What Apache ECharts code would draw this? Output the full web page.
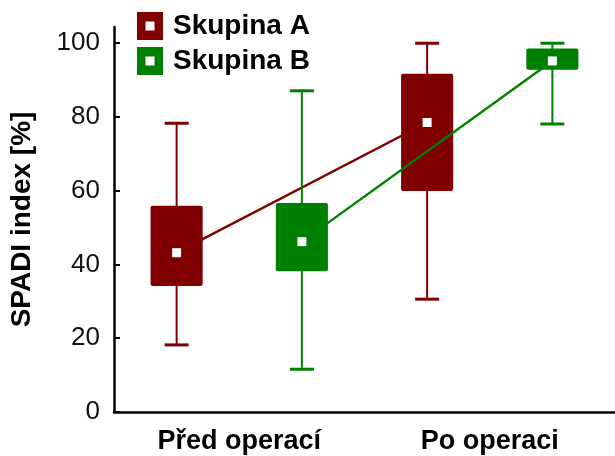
<!DOCTYPE html>
<html>
<head>
<meta charset="utf-8">
<script src="https://cdn.jsdelivr.net/npm/echarts@6/dist/echarts.min.js"></script>
<style>
html,body{margin:0;padding:0;background:#fff;}
#chart{width:615px;height:456px;}
</style>
</head>
<body>
<div id="chart"></div>
<script>
// ---- data ----
var categories = ['Před operací', 'Po operaci'];
var groupNames = ['Skupina A', 'Skupina B'];
var colors = ['#800000', '#008000'];
// per category: low whisker, Q1, median, Q3, high whisker
var aLow    = [18.2, 30.6];
var aQ1     = [34.2, 59.9];
var aMedian = [43.2, 78.5];
var aQ3     = [55.9, 91.7];
var aHigh   = [78.3, 100];
var bLow    = [11.6, 78.1];
var bQ1     = [38.2, 92.8];
var bMedian = [46.2, 95.2];
var bQ3     = [56.7, 98.6];
var bHigh   = [87.1, 100];
var yTicks  = [0, 20, 40, 60, 80, 100];

var FONT = '"Liberation Sans", Arial, Helvetica, sans-serif';

function boxData(low, q1, med, q3, high) {
  return categories.map(function (c, i) { return [i, low[i], q1[i], med[i], q3[i], high[i]]; });
}
function lineData(med) {
  return [[0, med[0], 1, med[1]]];
}

function makeBoxRender(offsetFrac, color) {
  return function (params, api) {
    var band = api.size([1, 0])[0];
    var off = offsetFrac * band;
    var bw = 0.208 * band;
    var cw = 0.096 * band;
    var x = api.value(0);
    var pLow = api.coord([x, api.value(1)]);
    var pQ1 = api.coord([x, api.value(2)]);
    var pMed = api.coord([x, api.value(3)]);
    var pQ3 = api.coord([x, api.value(4)]);
    var pHigh = api.coord([x, api.value(5)]);
    var cx = pLow[0] + off;
    var ms = 9;
    return {
      type: 'group',
      children: [
        { type: 'line', shape: { x1: cx, y1: pLow[1], x2: cx, y2: pHigh[1] }, style: { stroke: color, lineWidth: 2 } },
        { type: 'line', shape: { x1: cx - cw / 2, y1: pLow[1], x2: cx + cw / 2, y2: pLow[1] }, style: { stroke: color, lineWidth: 3 } },
        { type: 'line', shape: { x1: cx - cw / 2, y1: pHigh[1], x2: cx + cw / 2, y2: pHigh[1] }, style: { stroke: color, lineWidth: 3 } },
        { type: 'rect', shape: { x: cx - bw / 2, y: pQ3[1], width: bw, height: pQ1[1] - pQ3[1], r: 2 }, style: { fill: color } },
        { type: 'rect', shape: { x: cx - ms / 2, y: pMed[1] - ms / 2, width: ms, height: ms }, style: { fill: '#fff' } }
      ]
    };
  };
}
function makeLineRender(offsetFrac, color) {
  return function (params, api) {
    var band = api.size([1, 0])[0];
    var off = offsetFrac * band;
    var p0 = api.coord([api.value(0), api.value(1)]);
    var p1 = api.coord([api.value(2), api.value(3)]);
    return {
      type: 'line',
      shape: { x1: p0[0] + off, y1: p0[1], x2: p1[0] + off, y2: p1[1] },
      style: { stroke: color, lineWidth: 2.4 }
    };
  };
}

var chart = echarts.init(document.getElementById('chart'), null, { renderer: 'canvas' });
var option = {
  animation: false,
  backgroundColor: '#fff',
  grid: { left: 114, right: 0, top: 27, bottom: 44, containLabel: false, outerBoundsMode: 'none' },
  legend: {
    orient: 'vertical',
    left: 137,
    top: 12,
    padding: 0,
    itemWidth: 26,
    itemHeight: 28,
    itemGap: 7,
    data: groupNames,
    icon: 'path://M0,0H26V28H0Z M8.5,9.5V18.5H17.5V9.5Z',
    textStyle: { fontFamily: FONT, fontSize: 28, fontWeight: 'bold', color: '#000', padding: [0, 0, 0, 5] }
  },
  xAxis: {
    type: 'category',
    data: categories,
    boundaryGap: true,
    axisLine: { lineStyle: { color: '#000', width: 2.5 } },
    axisTick: { alignWithLabel: true, inside: true, length: 7, lineStyle: { color: '#000', width: 2 } },
    axisLabel: { interval: 0, margin: 16, fontFamily: FONT, fontSize: 27, fontWeight: 'bold', color: '#000' },
    splitLine: { show: false }
  },
  yAxis: {
    type: 'value',
    min: 0,
    max: 104.4,
    interval: 20,
    name: 'SPADI index [%]',
    nameLocation: 'middle',
    nameGap: 78,
    nameTextStyle: { fontFamily: FONT, fontSize: 28, fontWeight: 'bold', color: '#000' },
    axisLine: { show: true, lineStyle: { color: '#000', width: 2.5 } },
    axisTick: { show: true, inside: true, length: 6, lineStyle: { color: '#000', width: 2 }, customValues: yTicks },
    axisLabel: {
      margin: 14, fontFamily: FONT, fontSize: 26, color: '#111', customValues: yTicks,
      formatter: function (v) { return yTicks.indexOf(v) >= 0 ? String(v) : ''; }
    },
    splitLine: { show: false }
  },
  series: [
    {
      name: groupNames[0], type: 'custom', renderItem: makeLineRender(-0.25, colors[0]),
      itemStyle: { color: colors[0] }, encode: { x: [0, 2], y: [1, 3] }, data: lineData(aMedian), silent: true
    },
    {
      name: groupNames[0], type: 'custom', renderItem: makeBoxRender(-0.25, colors[0]),
      itemStyle: { color: colors[0] }, encode: { x: 0, y: [1, 2, 3, 4, 5] }, data: boxData(aLow, aQ1, aMedian, aQ3, aHigh)
    },
    {
      name: groupNames[1], type: 'custom', renderItem: makeLineRender(0.25, colors[1]),
      itemStyle: { color: colors[1] }, encode: { x: [0, 2], y: [1, 3] }, data: lineData(bMedian), silent: true
    },
    {
      name: groupNames[1], type: 'custom', renderItem: makeBoxRender(0.25, colors[1]),
      itemStyle: { color: colors[1] }, encode: { x: 0, y: [1, 2, 3, 4, 5] }, data: boxData(bLow, bQ1, bMedian, bQ3, bHigh)
    }
  ]
};
chart.setOption(option);
</script>
</body>
</html>
